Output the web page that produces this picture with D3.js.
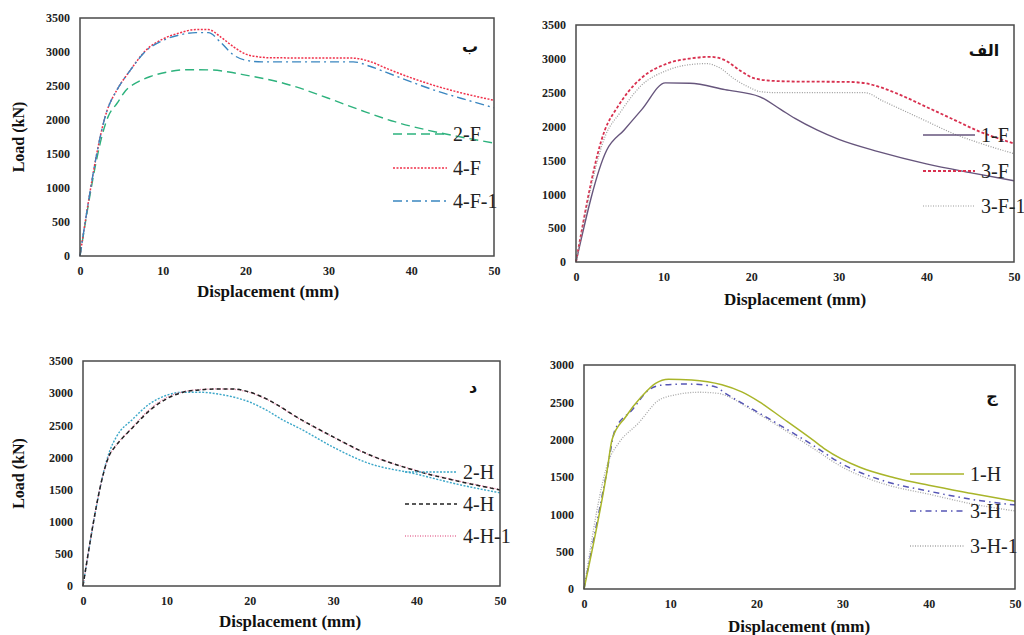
<!DOCTYPE html>
<html>
<head>
<meta charset="utf-8">
<script src="https://cdn.jsdelivr.net/npm/d3@7"></script>
<style>
  body { margin: 0; background: #fff; }
  svg { display: block; }
  .tick text { font-family: "Liberation Serif", "Times New Roman", serif; font-weight: bold; font-size: 12px; fill: #222; }
</style>
</head>
<body>
<svg id="chart" width="1024" height="635"></svg>
<script>
// Werte: [Verschiebung (mm), Last (kN)]
const xTicks = [0, 10, 20, 30, 40, 50];
const yTicks3500 = [0, 500, 1000, 1500, 2000, 2500, 3000, 3500];
const yTicks3000 = [0, 500, 1000, 1500, 2000, 2500, 3000];

// Panel ب
const f2 = [[0,0],[3.4,2050],[4.5,2250],[5.5,2430],[7,2560],[8.5,2640],[10.5,2705],[13,2740],[16,2735],[18,2705],[20,2660],[24,2560],[26,2490],[30,2320],[34,2140],[38,1975],[42,1850],[46,1750],[50,1660]];
const f4 = [[0,0],[3.3,2150],[4.5,2450],[6,2720],[8,3030],[10,3190],[12,3280],[14,3330],[15.5,3330],[17,3220],[18.5,3080],[20,2970],[21.5,2930],[23,2915],[33,2910],[35,2860],[37,2760],[40,2620],[43,2500],[46,2400],[50,2290]];
const f41 = [[0,0],[3.3,2150],[4.5,2450],[6,2720],[8,3020],[10,3170],[12,3250],[14,3285],[15.5,3285],[17,3140],[18.5,2960],[20,2880],[22,2855],[33,2855],[35,2790],[37,2700],[40,2560],[43,2430],[46,2320],[50,2180]];

// Panel الف
const f1 = [[0,0],[3.5,1650],[5.5,1950],[7.5,2250],[10.2,2645],[13,2640],[17,2545],[21,2440],[23.4,2250],[25,2120],[27.5,1950],[30,1810],[34.5,1630],[40,1450],[45,1320],[50,1200]];
const f3 = [[0,0],[3.3,1950],[4.7,2280],[6,2520],[7.5,2720],[10.4,2930],[13,3005],[15.3,3030],[17,2980],[18.8,2820],[20.3,2715],[22.5,2675],[25,2665],[31,2660],[33,2640],[35,2570],[37.5,2440],[40,2290],[43,2110],[46,1930],[50,1750]];
const f31 = [[0,0],[3.4,1880],[5,2200],[7.4,2600],[10.4,2830],[13,2915],[14.9,2930],[16.5,2860],[18,2710],[19.6,2590],[21.1,2515],[23,2500],[33,2500],[35,2380],[37.5,2230],[40,2080],[43,1900],[46,1760],[50,1600]];

// Panel د
const h2 = [[0,0],[3.2,2100],[4,2320],[6,2600],[8,2835],[10,2965],[12,3015],[14,3015],[16,2990],[18,2940],[20,2860],[22,2735],[24,2580],[26,2450],[30,2160],[34,1920],[40,1740],[45,1580],[50,1450]];
const h4 = [[0,0],[3.3,2070],[3.8,2160],[6,2470],[8,2730],[10,2910],[12,3015],[14,3050],[16,3065],[18,3065],[20,3015],[22,2910],[26,2600],[30,2320],[34,2060],[40,1790],[45,1630],[50,1495]];
const h41 = [[0,0],[3.3,2070],[3.8,2160],[6,2480],[8,2750],[10,2930],[12,3020],[14,3055],[16,3065],[18,3060],[20,3010],[22,2905],[26,2595],[30,2315],[34,2055],[40,1795],[45,1635],[50,1500]];

// Panel ج
const h1 = [[0,0],[2.7,1600],[3.25,2000],[4.8,2300],[6.7,2580],[8.3,2755],[9.8,2810],[12.5,2800],[16,2735],[18.3,2640],[20.3,2510],[23,2290],[26.5,2000],[28,1870],[32,1630],[36,1490],[40,1390],[45,1280],[50,1175]];
const h3 = [[0,0],[2.7,1600],[3.6,2130],[5.6,2400],[7.5,2665],[9,2730],[12,2745],[15.2,2710],[16.4,2620],[19,2445],[23,2175],[26.5,1930],[29.7,1690],[35,1440],[40,1310],[45,1200],[50,1125]];
const h31 = [[0,0],[2.9,1730],[4,1950],[6.3,2220],[8.7,2530],[10.6,2600],[13.3,2635],[15.6,2620],[16.8,2575],[19,2430],[23,2150],[26.5,1890],[30,1630],[35,1400],[40,1270],[45,1140],[50,1045]];

const serif = '"Liberation Serif", "Times New Roman", serif';
const svg = d3.select("#chart");

const panels = [
  { box: [80, 18, 494, 256], yMax: 3500, yTicks: yTicks3500, yLabel: true, letter: "ب", letterPos: [470, 52],
    titleX: 268, titleY: 297, legX: [393, 447], legY: [134, 168, 201],
    series: [
      { name: "2-F", data: f2, color: "#2db27d", dash: "9,5", width: 1.4 },
      { name: "4-F", data: f4, color: "#f0304a", dash: "2,1.5", width: 1.5 },
      { name: "4-F-1", data: f41, color: "#3a86c0", dash: "9,4,2,4", width: 1.4 }
    ] },
  { box: [576, 25, 1014, 262], yMax: 3500, yTicks: yTicks3500, yLabel: false, letter: "الف", letterPos: [984, 56],
    titleX: 795, titleY: 305, legX: [923, 975], legY: [135, 171, 206],
    series: [
      { name: "1-F", data: f1, color: "#66557c", dash: null, width: 1.4 },
      { name: "3-F", data: f3, color: "#d8304f", dash: "3,2", width: 1.8 },
      { name: "3-F-1", data: f31, color: "#9a9a9a", dash: "1,1.5", width: 1.2 }
    ] },
  { box: [83, 361, 500, 586], yMax: 3500, yTicks: yTicks3500, yLabel: true, letter: "د", letterPos: [473, 393],
    titleX: 290, titleY: 627, legX: [405, 457], legY: [472, 504, 536],
    series: [
      { name: "2-H", data: h2, color: "#3aa6c8", dash: "2,1.5", width: 1.4 },
      { name: "4-H-1", data: h41, color: "#e87aa0", dash: "1,1.5", width: 1.3, legendIndex: 2 },
      { name: "4-H", data: h4, color: "#222222", dash: "4,3", width: 1.5, legendIndex: 1 }
    ] },
  { box: [584, 365, 1015, 589], yMax: 3000, yTicks: yTicks3000, yLabel: false, letter: "ج", letterPos: [992, 402],
    titleX: 799, titleY: 632, legX: [910, 964], legY: [474, 511, 546],
    series: [
      { name: "3-H-1", data: h31, color: "#a8a8a8", dash: "1,1.5", width: 1.3, legendIndex: 2 },
      { name: "3-H", data: h3, color: "#5555b5", dash: "6,4,1.5,4", width: 1.5, legendIndex: 1 },
      { name: "1-H", data: h1, color: "#a9b52a", dash: null, width: 1.5, legendIndex: 0 }
    ] }
];

panels.forEach(p => {
  const [x0, y0, x1, y1] = p.box;
  const g = svg.append("g");

  const x = d3.scaleLinear().domain([0, 50]).range([x0, x1]);
  const y = d3.scaleLinear().domain([0, p.yMax]).range([y1, y0]);

  // Achsen ohne Striche, nur Beschriftung
  g.append("g")
    .attr("transform", `translate(0,${y1})`)
    .call(d3.axisBottom(x).tickValues(xTicks).tickFormat(d3.format("d")).tickSize(0).tickPadding(10))
    .call(a => a.select(".domain").remove());

  g.append("g")
    .attr("transform", `translate(${x0},0)`)
    .call(d3.axisLeft(y).tickValues(p.yTicks).tickFormat(d3.format("d")).tickSize(0).tickPadding(10))
    .call(a => a.select(".domain").remove());

  const line = d3.line()
    .x(d => x(d[0]))
    .y(d => y(d[1]))
    .curve(d3.curveMonotoneX);

  p.series.forEach(s => {
    g.append("path")
      .datum(s.data)
      .attr("fill", "none")
      .attr("stroke", s.color)
      .attr("stroke-width", s.width)
      .attr("stroke-dasharray", s.dash)
      .attr("d", line);
  });

  // Rahmen
  g.append("rect")
    .attr("x", x0).attr("y", y0)
    .attr("width", x1 - x0).attr("height", y1 - y0)
    .attr("fill", "none")
    .attr("stroke", "#4a4a4a")
    .attr("stroke-width", 1.5);

  // Legende
  p.series.forEach((s, i) => {
    const k = s.legendIndex != null ? s.legendIndex : i;
    const ly = p.legY[k];
    g.append("line")
      .attr("x1", p.legX[0]).attr("x2", p.legX[1])
      .attr("y1", ly).attr("y2", ly)
      .attr("stroke", s.color)
      .attr("stroke-width", s.width)
      .attr("stroke-dasharray", s.dash);
    g.append("text")
      .attr("x", p.legX[1] + 6)
      .attr("y", ly + 7)
      .style("font-family", serif)
      .style("font-size", "20px")
      .style("fill", "#222")
      .text(s.name);
  });

  g.append("text")
    .attr("x", p.letterPos[0])
    .attr("y", p.letterPos[1])
    .attr("text-anchor", "middle")
    .style("font-family", '"DejaVu Sans", sans-serif')
    .style("font-weight", "bold")
    .style("font-size", "16px")
    .style("fill", "#111")
    .text(p.letter);

  g.append("text")
    .attr("x", p.titleX)
    .attr("y", p.titleY)
    .attr("text-anchor", "middle")
    .style("font-family", serif)
    .style("font-weight", "bold")
    .style("font-size", "17px")
    .style("fill", "#111")
    .text("Displacement (mm)");

  if (p.yLabel) {
    g.append("text")
      .attr("transform", `translate(24,${(y0 + y1) / 2}) rotate(-90)`)
      .attr("text-anchor", "middle")
      .style("font-family", serif)
      .style("font-weight", "bold")
      .style("font-size", "16px")
      .style("fill", "#111")
      .text("Load (kN)");
  }
});
</script>
</body>
</html>
